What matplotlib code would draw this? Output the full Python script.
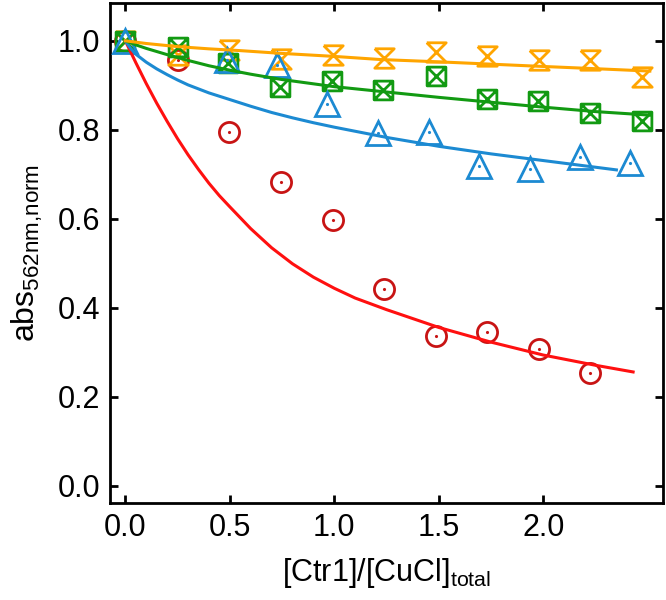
import matplotlib
matplotlib.use("Agg")
import matplotlib.pyplot as plt
from matplotlib.path import Path

plt.rcParams['font.family'] = ['Liberation Sans', 'DejaVu Sans']
plt.rcParams['mathtext.default'] = 'regular'

red_x = [0, 0.251, 0.495, 0.744, 0.993, 1.237, 1.486, 1.730, 1.978, 2.222]
red_y = [1.0, 0.958, 0.796, 0.683, 0.598, 0.443, 0.337, 0.346, 0.308, 0.254]

orange_x = [0, 0.251, 0.495, 0.744, 0.993, 1.237, 1.486, 1.730, 1.978, 2.222, 2.471]
orange_y = [1.0, 0.968, 0.980, 0.960, 0.969, 0.961, 0.976, 0.965, 0.956, 0.957, 0.919]

green_x = [0, 0.251, 0.490, 0.739, 0.988, 1.232, 1.486, 1.730, 1.974, 2.222, 2.471]
green_y = [1.0, 0.987, 0.950, 0.897, 0.909, 0.890, 0.921, 0.870, 0.865, 0.838, 0.820]

blue_x = [0, 0.488, 0.727, 0.966, 1.208, 1.452, 1.691, 1.935, 2.175, 2.414]
blue_y = [1.0, 0.958, 0.946, 0.858, 0.793, 0.796, 0.719, 0.712, 0.739, 0.726]

# fitted curves
red_fit_x = [0, 0.05, 0.1, 0.15, 0.2, 0.25, 0.3, 0.35, 0.4, 0.45, 0.5, 0.6, 0.7,
             0.8, 0.9, 1.0, 1.1, 1.25, 1.5, 1.75, 2.0, 2.25, 2.43]
red_fit_y = [1.0, 0.951, 0.904, 0.860, 0.819, 0.780, 0.744, 0.711, 0.680, 0.652,
             0.627, 0.578, 0.535, 0.499, 0.469, 0.444, 0.422, 0.396, 0.356, 0.323,
             0.294, 0.271, 0.256]

blue_fit_x = [0, 0.025, 0.05, 0.1, 0.15, 0.2, 0.25, 0.3, 0.4, 0.5, 0.6, 0.7, 0.8,
              0.9, 1.0, 1.25, 1.5, 1.75, 2.0, 2.25, 2.35]
blue_fit_y = [1.0, 0.983, 0.970, 0.952, 0.937, 0.924, 0.912, 0.901, 0.883, 0.868,
              0.853, 0.839, 0.827, 0.816, 0.806, 0.783, 0.763, 0.746, 0.731, 0.716,
              0.710]

green_fit_x = [0, 0.05, 0.1, 0.2, 0.3, 0.4, 0.5, 0.6, 0.75, 1.0, 1.25, 1.5, 1.75,
               2.0, 2.25, 2.51]
green_fit_y = [1.0, 0.991, 0.983, 0.969, 0.956, 0.944, 0.934, 0.925, 0.913, 0.897,
               0.885, 0.873, 0.862, 0.851, 0.841, 0.833]

orange_fit_x = [0, 0.1, 0.25, 0.4, 0.55, 0.74, 1.0, 1.22, 1.49, 1.73, 1.97, 2.22, 2.51]
orange_fit_y = [1.0, 0.994, 0.987, 0.982, 0.978, 0.972, 0.965, 0.958, 0.953, 0.948,
                0.943, 0.938, 0.932]

x_ticks = [0.0, 0.5, 1.0, 1.5, 2.0]
y_ticks = [0.0, 0.2, 0.4, 0.6, 0.8, 1.0]

c_red_m = '#C81414'
c_red = '#FF1010'
c_orange = '#FFA500'
c_green = '#129A12'
c_blue = '#1C8AD2'

# custom marker shapes
hourglass = [(-1, 1), (1, 1), (-1, -1), (1, -1), (-1, 1)]
box_x = Path(
    [(-1, -1), (1, -1), (1, 1), (-1, 1), (-1, -1), (-1, -1), (1, 1), (-1, 1), (1, -1)],
    [Path.MOVETO, Path.LINETO, Path.LINETO, Path.LINETO, Path.CLOSEPOLY,
     Path.MOVETO, Path.LINETO, Path.MOVETO, Path.LINETO])

fig = plt.figure(figsize=(6.66, 6.0), dpi=100)
ax = fig.add_axes([0.165, 0.162, 0.8305, 0.833])

mew = 2.0
# markers
ax.plot(red_x, red_y, ls='none', marker='o', ms=14.5, mfc='none', mec=c_red_m, mew=mew, zorder=2)
ax.plot(red_x, red_y, ls='none', marker='.', ms=2.5, color=c_red_m, zorder=2)
ax.plot(orange_x, orange_y, ls='none', marker=hourglass, ms=14, mfc='none', mec=c_orange, mew=mew, zorder=3)
ax.plot(green_x, green_y, ls='none', marker=box_x, ms=13.5, mfc='none', mec=c_green, mew=mew, zorder=4)
ax.plot(blue_x, blue_y, ls='none', marker='^', ms=17, mfc='none', mec=c_blue, mew=mew, zorder=5)
ax.plot(blue_x, blue_y, ls='none', marker='.', ms=2.5, color=c_blue, zorder=5)

# fit lines
lw = 2.2
ax.plot(red_fit_x, red_fit_y, color=c_red, lw=lw, zorder=6)
ax.plot(blue_fit_x, blue_fit_y, color=c_blue, lw=lw, zorder=6)
ax.plot(green_fit_x, green_fit_y, color=c_green, lw=lw, zorder=6)
ax.plot(orange_fit_x, orange_fit_y, color=c_orange, lw=lw, zorder=6)

ax.set_xlim(-0.074, 2.573)
ax.set_ylim(-0.038, 1.085)
ax.set_xticks(x_ticks)
ax.set_yticks(y_ticks)
ax.set_xticklabels([f"{v:.1f}" for v in x_ticks])
ax.set_yticklabels([f"{v:.1f}" for v in y_ticks])

for s in ax.spines.values():
    s.set_linewidth(2)
ax.tick_params(direction='in', length=6, width=2, top=True, right=True,
               labelsize=22, pad=7)

ax.set_xlabel('[Ctr1]/[CuCl]$_{total}$', fontsize=22, labelpad=10)
ax.set_ylabel('abs$_{562nm{,}norm}$', fontsize=23, labelpad=9)

fig.savefig('out.png', dpi=100)
